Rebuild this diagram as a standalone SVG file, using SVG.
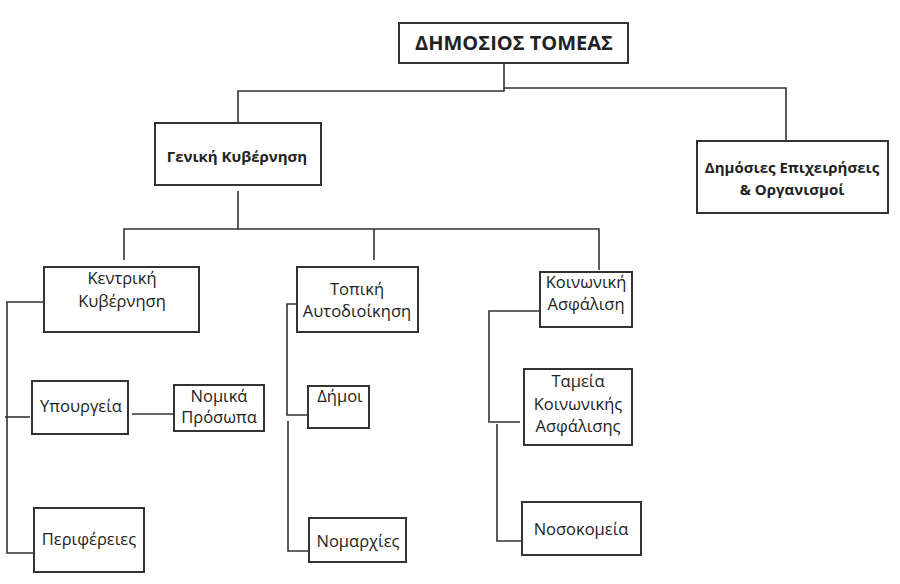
<svg xmlns="http://www.w3.org/2000/svg" width="900" height="584" viewBox="0 0 900 584">
<style>
.box{fill:#fff;stroke:#333;stroke-width:2}
.ln{fill:none;stroke:#333;stroke-width:1.6}
text{font-family:"Open Sans","Noto Sans","DejaVu Sans",sans-serif;fill:#222;text-anchor:middle}
.n{font-size:16.5px}
.b{font-size:15px;font-weight:bold}
.t{font-size:20px;font-weight:bold}
</style>
<rect width="900" height="584" fill="#fff"/>
<g id="connectors">
<polyline class="ln" points="504,63 504,91 238,91 238,123"/>
<polyline class="ln" points="504,88 786,88 786,141"/>
<polyline class="ln" points="238,191 238,229 124,229 124,260"/>
<polyline class="ln" points="238,229 599,229 599,270"/>
<line class="ln" x1="374" y1="229" x2="374" y2="260"/>
<polyline class="ln" points="46,302 7,302 7,553 36,553"/>
<line class="ln" x1="5" y1="417" x2="30" y2="417"/>
<line class="ln" x1="132" y1="414" x2="177" y2="414"/>
<polyline class="ln" points="297,304 287,304 287,415 308,415"/>
<polyline class="ln" points="288,421 288,551 309,551"/>
<polyline class="ln" points="540,311 489,311 489,422 520,422"/>
<polyline class="ln" points="497,424 497,541 523,541"/>
</g>
<g id="dimosios-tomeas">
<rect class="box" x="399" y="23" width="229" height="40"/>
<text class="t" x="514" y="50">ΔΗΜΟΣΙΟΣ ΤΟΜΕΑΣ</text>
</g>
<g id="geniki-kyvernisi">
<rect class="box" x="155" y="123" width="166" height="62"/>
<text class="b" x="237" y="162">Γενική Κυβέρνηση</text>
</g>
<g id="dimosies-epixeiriseis">
<rect class="box" x="697" y="141" width="191" height="72"/>
<text class="b" x="792" y="173">Δημόσιες Επιχειρήσεις</text>
<text class="b" x="792" y="195">&amp; Οργανισμοί</text>
</g>
<g id="kentriki-kyvernisi">
<rect class="box" x="44" y="267" width="155" height="65"/>
<text class="n" x="122" y="284">Κεντρική</text>
<text class="n" x="122" y="307">Κυβέρνηση</text>
</g>
<g id="topiki-autodioikisi">
<rect class="box" x="297" y="267" width="121" height="65"/>
<text class="n" x="357" y="295">Τοπική</text>
<text class="n" x="357" y="317">Αυτοδιοίκηση</text>
</g>
<g id="koinoniki-asfalisi">
<rect class="box" x="540" y="272" width="92" height="55"/>
<text class="n" x="586" y="288">Κοινωνική</text>
<text class="n" x="586" y="310">Ασφάλιση</text>
</g>
<g id="ypourgeia">
<rect class="box" x="32" y="381" width="96" height="53"/>
<text class="n" x="81" y="412">Υπουργεία</text>
</g>
<g id="nomika-prosopa">
<rect class="box" x="174" y="385" width="90" height="46"/>
<text class="n" x="219" y="402">Νομικά</text>
<text class="n" x="219" y="423">Πρόσωπα</text>
</g>
<g id="perifereies">
<rect class="box" x="34" y="508" width="110" height="64"/>
<text class="n" x="89" y="545">Περιφέρειες</text>
</g>
<g id="dimoi">
<rect class="box" x="308" y="386" width="61" height="42"/>
<text class="n" x="340" y="402">Δήμοι</text>
</g>
<g id="nomarxies">
<rect class="box" x="309" y="518" width="97" height="44"/>
<text class="n" x="358" y="547">Νομαρχίες</text>
</g>
<g id="tameia">
<rect class="box" x="524" y="369" width="108" height="76"/>
<text class="n" x="578" y="387">Ταμεία</text>
<text class="n" x="578" y="410">Κοινωνικής</text>
<text class="n" x="578" y="432">Ασφάλισης</text>
</g>
<g id="nosokomeia">
<rect class="box" x="522" y="502" width="119" height="53"/>
<text class="n" x="581" y="535">Νοσοκομεία</text>
</g>
</svg>
